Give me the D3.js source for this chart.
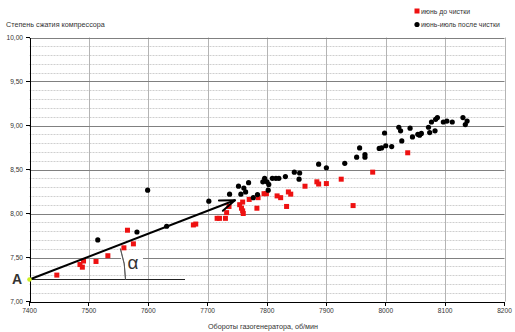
<!DOCTYPE html>
<html>
<head>
<meta charset="utf-8">
<script src="https://cdn.jsdelivr.net/npm/d3@7"></script>
<style>
  html, body { margin: 0; padding: 0; background: #fff; }
  svg { display: block; }
  text { font-family: "Liberation Sans", Arial, sans-serif; fill: #333; }
</style>
</head>
<body>
<script>
// Compressor pressure ratio vs gas generator speed, before / after cleaning

const xTicks = [7400, 7500, 7600, 7700, 7800, 7900, 8000, 8100, 8200];
const xTickLabels = ["7400", "7500", "7600", "7700", "7800", "7900", "8000", "8100", "8200"];
const yTicks = [7.0, 7.5, 8.0, 8.5, 9.0, 9.5, 10.0];
const yTickLabels = ["7,00", "7,50", "8,00", "8,50", "9,00", "9,50", "10,00"];

const seriesNames = ["июнь до чистки", "июнь-июль после чистки"];

// June, before cleaning
const beforeRpm = [7446, 7485, 7489, 7491, 7512, 7532, 7559, 7565, 7575, 7676, 7680,
  7716, 7720, 7730, 7732, 7736, 7754, 7759, 7757, 7759, 7760, 7770, 7785, 7783,
  7795, 7799, 7817, 7823, 7833, 7836, 7840, 7864, 7884, 7887, 7900, 7925, 7945,
  7978, 8037];
const beforeRatio = [7.30, 7.42, 7.39, 7.46, 7.455, 7.52, 7.61, 7.81, 7.655, 7.87, 7.88,
  7.945, 7.945, 7.945, 8.01, 8.08, 8.10, 8.13, 8.06, 8.03, 8.00, 8.16, 8.18, 8.06,
  8.225, 8.225, 8.20, 8.18, 8.08, 8.245, 8.22, 8.31, 8.36, 8.335, 8.34, 8.39, 8.09,
  8.47, 8.69];

// June-July, after cleaning
const afterRpm = [7515, 7581, 7599, 7631, 7702, 7737, 7752, 7756, 7761, 7764, 7769,
  7777, 7784, 7793, 7796, 7800, 7803, 7802, 7809, 7815, 7820, 7831, 7846, 7855,
  7854, 7887, 7900, 7931, 7951, 7956, 7965, 7965, 7989, 7993, 7998, 8000, 8010,
  8022, 8025, 8027, 8041, 8045, 8054, 8057, 8060, 8072, 8074, 8077, 8083, 8084,
  8087, 8097, 8103, 8112, 8130, 8137, 8134];
const afterRatio = [7.70, 7.79, 8.265, 7.855, 8.14, 8.22, 8.31, 8.22, 8.29, 8.245, 8.35,
  8.18, 8.215, 8.36, 8.40, 8.36, 8.33, 8.265, 8.40, 8.40, 8.40, 8.42, 8.47, 8.46,
  8.39, 8.56, 8.52, 8.57, 8.64, 8.745, 8.67, 8.64, 8.74, 8.745, 8.915, 8.77, 8.76,
  8.98, 8.94, 8.825, 8.97, 8.87, 8.90, 8.89, 8.91, 8.98, 8.92, 9.04, 8.94, 9.07,
  9.09, 9.04, 9.05, 9.04, 9.09, 9.05, 9.01];

// Trend construction: start point A and arrow tip
const pointA = [7400, 7.25];
const arrowTip = [7746, 8.15];

const W = 515, H = 332;
const svg = d3.select("body").append("svg").attr("width", W).attr("height", H);

const x = d3.scaleLinear().domain([7400, 8200]).range([29.5, 504.5]);
const y = d3.scaleLinear().domain([7, 10]).range([301.5, 37.5]);

// minor horizontal grid every 0.1
const minor = y.ticks(30).filter(v => Math.abs(v * 2 - Math.round(v * 2)) > 1e-6);
svg.append("g").selectAll("line").data(minor).join("line")
  .attr("x1", x.range()[0]).attr("x2", x.range()[1])
  .attr("y1", d => Math.round(y(d)) + 0.5).attr("y2", d => Math.round(y(d)) + 0.5)
  .attr("stroke", "#cfcfcf").attr("stroke-dasharray", "2,1");

// vertical grid
svg.append("g").selectAll("line").data(xTicks.slice(1)).join("line")
  .attr("x1", d => Math.round(x(d)) + 0.5).attr("x2", d => Math.round(x(d)) + 0.5)
  .attr("y1", y.range()[1]).attr("y2", y.range()[0])
  .attr("stroke", "#b4b4b4");

// major horizontal grid
svg.append("g").selectAll("line").data(yTicks.slice(1)).join("line")
  .attr("x1", x.range()[0]).attr("x2", x.range()[1])
  .attr("y1", d => Math.round(y(d)) + 0.5).attr("y2", d => Math.round(y(d)) + 0.5)
  .attr("stroke", "#808080");

// axes
const yAxis = d3.axisLeft(y).tickValues(yTicks)
  .tickFormat((d, i) => yTickLabels[i]).tickSize(4).tickPadding(3);
const xAxis = d3.axisBottom(x).tickValues(xTicks)
  .tickFormat((d, i) => xTickLabels[i]).tickSize(4).tickPadding(2);

const gy = svg.append("g").attr("transform", "translate(0.5,0)").call(yAxis);
const gx = svg.append("g").attr("transform", "translate(0," + 0.5 + ")").call(xAxis);
[gx, gy].forEach(g => {
  g.selectAll("path, line").attr("stroke", "#000").attr("shape-rendering", "crispEdges");
  g.select(".domain").attr("stroke", "#000");
  g.selectAll("text").attr("font-size", 6.6).attr("fill", "#333")
    .attr("font-family", "Liberation Sans, Arial, sans-serif");
});
gx.select(".domain").attr("d", `M${x.range()[0]},${y.range()[0]}H${x.range()[1]}`);
gx.selectAll(".tick").attr("transform", d => `translate(${x(d)},${y.range()[0]})`);
gy.select(".domain").attr("d", `M${x.range()[0]},${y.range()[0]}V${y.range()[1]}`);
gy.selectAll(".tick").attr("transform", d => `translate(${x.range()[0]},${y(d)})`);
gy.selectAll("text").attr("dy", "0.35em");

// angle construction (drawn beneath the markers)
const ax = x(pointA[0]), ay = y(pointA[1]);
const tx = x(arrowTip[0]), ty = y(arrowTip[1]);
const ang = Math.atan2(ay - ty, tx - ax);

svg.append("line")
  .attr("x1", ax).attr("y1", ay).attr("x2", 185).attr("y2", ay)
  .attr("stroke", "#222").attr("stroke-width", 1);

// label box for the angle
svg.append("rect").attr("x", 121).attr("y", 251).attr("width", 22).attr("height", 20)
  .attr("fill", "#fff");

const R = 96;
const arc = d3.arc().innerRadius(R).outerRadius(R)
  .startAngle(Math.PI / 2 - ang + 0.04).endAngle(Math.PI / 2);
svg.append("path").attr("d", arc()).attr("transform", `translate(${ax},${ay})`)
  .attr("fill", "none").attr("stroke", "#555").attr("stroke-width", 0.9);

svg.append("text").attr("x", 133).attr("y", 269).attr("text-anchor", "middle")
  .attr("font-size", 19).attr("fill", "#111").text("α");

// markers
svg.append("g").selectAll("rect").data(beforeRpm).join("rect")
  .attr("x", (d, i) => x(d) - 2.5).attr("y", (d, i) => y(beforeRatio[i]) - 2.5)
  .attr("width", 5).attr("height", 5).attr("fill", "#ee1111");

svg.append("g").selectAll("circle").data(afterRpm).join("circle")
  .attr("cx", d => x(d)).attr("cy", (d, i) => y(afterRatio[i])).attr("r", 2.6)
  .attr("fill", "#000");

// arrow from A
svg.append("line").attr("x1", ax).attr("y1", ay).attr("x2", tx).attr("y2", ty)
  .attr("stroke", "#000").attr("stroke-width", 2);
const barb = 16, spread = 20 * Math.PI / 180;
const back = Math.atan2(ay - ty, ax - tx);
[-spread, spread].forEach(s => {
  svg.append("line").attr("x1", tx).attr("y1", ty)
    .attr("x2", tx + barb * Math.cos(back + s)).attr("y2", ty + barb * Math.sin(back + s))
    .attr("stroke", "#000").attr("stroke-width", 2).attr("stroke-linecap", "round");
});

svg.append("circle").attr("cx", ax).attr("cy", ay).attr("r", 2.3).attr("fill", "#ccee22");
svg.append("text").attr("x", 17).attr("y", 284).attr("text-anchor", "middle")
  .attr("font-size", 14).attr("font-weight", "bold").attr("fill", "#000").text("A");

// titles
svg.append("text").attr("x", 6).attr("y", 27).attr("font-size", 7.2).text("Степень сжатия компрессора");
svg.append("text").attr("x", 263).attr("y", 329).attr("text-anchor", "middle")
  .attr("font-size", 7.2).text("Обороты газогенератора, об/мин");

// legend
const lg = svg.append("g");
lg.append("rect").attr("x", 414.5).attr("y", 8.5).attr("width", 5).attr("height", 5).attr("fill", "#ee1111");
lg.append("circle").attr("cx", 417).attr("cy", 24.5).attr("r", 2.6).attr("fill", "#000");
lg.append("text").attr("x", 421).attr("y", 13.5).attr("font-size", 6.9).text(seriesNames[0]);
lg.append("text").attr("x", 421).attr("y", 27).attr("font-size", 6.9).text(seriesNames[1]);
</script>
</body>
</html>
